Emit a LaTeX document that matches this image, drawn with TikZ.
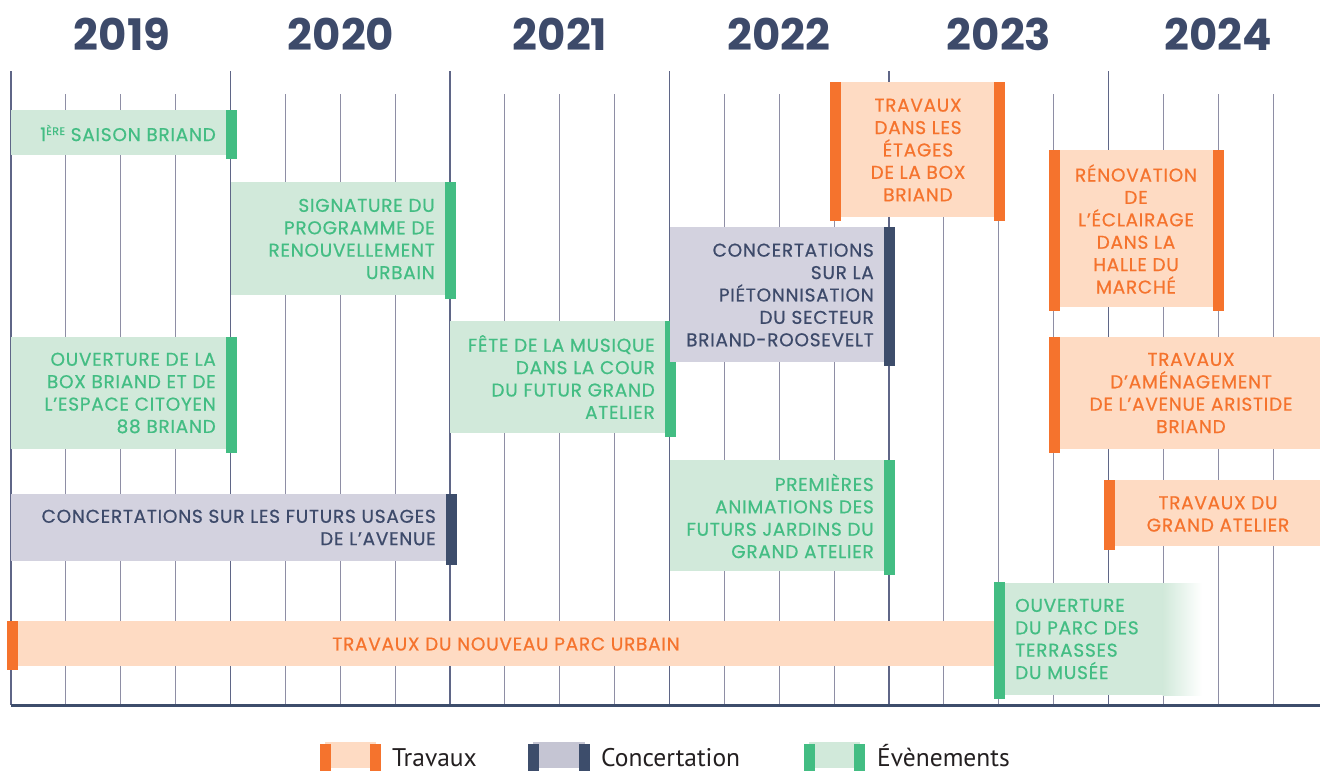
\documentclass[tikz,border=0pt]{standalone}
\usepackage{fontspec}
\newfontfamily\popf{Poppins}[LetterSpace=4,FakeBold=0.6]
\newfontfamily\popy{Poppins}
\newfontfamily\legf{PT Sans}
\definecolor{ORdark}{HTML}{F5732D}
\definecolor{ORlight}{HTML}{FEDBC3}
\definecolor{NVdark}{HTML}{3D4D6B}
\definecolor{NVlight}{HTML}{D3D2DF}
\definecolor{NVleg}{HTML}{C5C5D3}
\definecolor{GRdark}{HTML}{43BD83}
\definecolor{GRlight}{HTML}{D1E9DA}
\definecolor{YRtext}{HTML}{3D4A6A}
\definecolor{GRIDq}{HTML}{8E8EA5}
\definecolor{GRIDy}{HTML}{5F6687}
\definecolor{LEGtext}{HTML}{231F20}
\tikzset{
  txt/.style={inner sep=0pt, font=\popf\fontsize{18.5}{22.4}\selectfont},
  yr/.style={inner sep=0pt, font=\popy\bfseries\fontsize{43.5}{43.5}\selectfont, text=YRtext},
  leg/.style={inner sep=0pt, anchor=base west, font=\legf\fontsize{25.5}{25.5}\selectfont, text=LEGtext},
}
\begin{document}
\begin{tikzpicture}[x=1pt,y=-1pt]
\useasboundingbox (0,0) rectangle (1320,771);
% grid
\foreach \j in {1,...,23}{
  \draw[GRIDq, line width=1.1pt] ({11+54.875*\j},94) -- ({11+54.875*\j},705);
}
\foreach \k in {0,...,5}{
  \draw[GRIDy, line width=1.4pt] ({11+219.5*\k},71) -- ({11+219.5*\k},705);
}
\draw[NVdark, line width=3pt] (11,705) -- (1320,705);
% year labels
\node[yr] (y2019) at (122,34) {2019};
\node[yr] (y2020) at (341,34) {2020};
\node[yr] (y2021) at (560,34) {2021};
\node[yr] (y2022) at (779,34) {2022};
\node[yr] (y2023) at (999,34) {2023};
\node[yr] (y2024) at (1218,34) {2024};

% 1ere saison
\fill[GRlight] (11,110) rectangle (226,155);
\fill[GRdark] (226,110) rectangle (237,159);
\node[txt, text=GRdark, anchor=east] (saison) at (216,133) {1\raisebox{0.6ex}{\fontsize{11}{11}\selectfont ÈRE} SAISON BRIAND};

% signature
\fill[GRlight] (231,182) rectangle (445,295);
\fill[GRdark] (445,182) rectangle (456,299);
\node[txt, text=GRdark, anchor=east, align=right] (sig) at (435,239) {SIGNATURE DU\\PROGRAMME DE\\RENOUVELLEMENT\\URBAIN};

% ouverture box briand
\fill[GRlight] (11,337) rectangle (226,449);
\fill[GRdark] (226,337) rectangle (237,453);
\node[txt, text=GRdark, anchor=east, align=right] (boxb) at (216,393) {OUVERTURE DE LA\\BOX BRIAND ET DE\\L’ESPACE CITOYEN\\88 BRIAND};

% concertations futurs usages
\fill[NVlight] (11,494) rectangle (446,561);
\fill[NVdark] (446,494) rectangle (457,565);
\node[txt, text=YRtext, anchor=east, align=right] (usages) at (436,527.5) {CONCERTATIONS SUR LES FUTURS USAGES\\DE L’AVENUE};

% travaux nouveau parc urbain
\fill[ORlight] (11,621) rectangle (1000,666);
\fill[ORdark] (6.5,621) rectangle (17.5,670);
\node[txt, text=ORdark] (parc) at (506,644) {TRAVAUX DU NOUVEAU PARC URBAIN};

% fete de la musique
\fill[GRlight] (450,321) rectangle (665,433);
\fill[GRdark] (665,321) rectangle (676,437);
\node[txt, text=GRdark, anchor=east, align=right] (fete) at (655,377) {FÊTE DE LA MUSIQUE\\DANS LA COUR\\DU FUTUR GRAND\\ATELIER};

% concertations pietonnisation
\fill[NVlight] (670,227) rectangle (884,362);
\fill[NVdark] (884,227) rectangle (895,366);
\node[txt, text=YRtext, anchor=east, align=right] (pieton) at (874,295) {CONCERTATIONS\\SUR LA\\PIÉTONNISATION\\DU SECTEUR\\BRIAND-ROOSEVELT};

% premieres animations
\fill[GRlight] (670,460) rectangle (884,571);
\fill[GRdark] (884,460) rectangle (895,575);
\node[txt, text=GRdark, anchor=east, align=right] (anim) at (874,516) {PREMIÈRES\\ANIMATIONS DES\\FUTURS JARDINS DU\\GRAND ATELIER};

% travaux etages
\fill[ORlight] (841,82) rectangle (994,217);
\fill[ORdark] (830,82) rectangle (841,221);
\fill[ORdark] (994,82) rectangle (1005,221);
\node[txt, text=ORdark, align=center] (etages) at (918,150) {TRAVAUX\\DANS LES\\ÉTAGES\\DE LA BOX\\BRIAND};

% renovation
\fill[ORlight] (1060,150) rectangle (1213,307);
\fill[ORdark] (1049,150) rectangle (1060,311);
\fill[ORdark] (1213,150) rectangle (1224,311);
\node[txt, text=ORdark, align=center] (renov) at (1136,229) {RÉNOVATION\\DE\\L’ÉCLAIRAGE\\DANS LA\\HALLE DU\\MARCHÉ};

% travaux amenagement
\fill[ORlight] (1060,337) rectangle (1320,449);
\fill[ORdark] (1049,337) rectangle (1060,453);
\node[txt, text=ORdark, align=center] (amenag) at (1191,393) {TRAVAUX\\D’AMÉNAGEMENT\\DE L’AVENUE ARISTIDE\\BRIAND};

% travaux grand atelier
\fill[ORlight] (1115,480) rectangle (1320,546);
\fill[ORdark] (1104,480) rectangle (1115,550);
\node[txt, text=ORdark, align=center] (atelier) at (1218,514) {TRAVAUX DU\\GRAND ATELIER};

% ouverture parc des terrasses
\fill[GRlight] (1005,583) rectangle (1163,695);
\shade[left color=GRlight, right color=white] (1162.5,583) rectangle (1202,695);
\fill[GRdark] (994,582) rectangle (1005,699);
\node[txt, text=GRdark, anchor=west, align=left] (terr) at (1015,639) {OUVERTURE\\DU PARC DES\\TERRASSES\\DU MUSÉE};

% legend
\fill[ORlight] (325,742) rectangle (376,768);
\fill[ORdark] (320,744) rectangle (331,771);
\fill[ORdark] (370,744) rectangle (381,771);
\node[leg] (lt) at (392,766) {Travaux};
\fill[NVleg] (533,742) rectangle (585,768);
\fill[NVdark] (528,744) rectangle (539,771);
\fill[NVdark] (579,744) rectangle (590,771);
\node[leg] (lc) at (601,766) {Concertation};
\fill[GRlight] (809,742) rectangle (860,768);
\fill[GRdark] (804,744) rectangle (815,771);
\fill[GRdark] (854,744) rectangle (865,771);
\node[leg] (le) at (877,766) {Évènements};
\end{tikzpicture}
\end{document}
